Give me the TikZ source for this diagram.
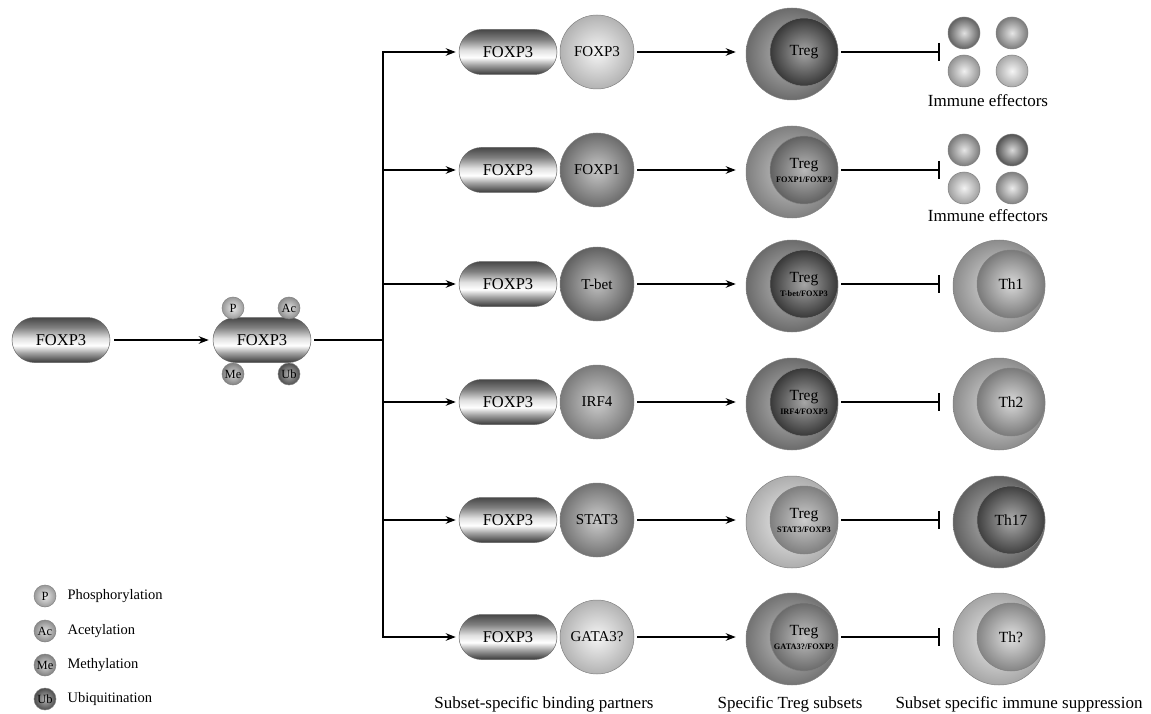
\documentclass[tikz,border=0pt]{standalone}
\usepackage{fontspec}
\setmainfont{Liberation Serif}
\usetikzlibrary{shapes.misc,arrows.meta}
\pgfdeclareverticalshading{pillshade}{100bp}{color(0bp)=(black!78); color(25bp)=(black!78); color(36bp)=(black!35); color(44bp)=(white); color(52bp)=(black!12); color(64bp)=(black!50); color(75bp)=(black!72); color(100bp)=(black!72)}
\begin{document}
\begin{tikzpicture}[x=1pt,y=-1pt,
 pill/.style={rounded rectangle, minimum width=98pt, minimum height=45pt, inner sep=0pt, shading=pillshade, draw=black!60, line width=0.5pt, font=\fontsize{16.5}{18}\selectfont},
 sph/.style n args={2}{circle, inner sep=0pt, draw=black!50, line width=0.5pt, shading=radial, inner color=black!#1, outer color=black!#2},
 partner/.style={minimum size=74pt, font=\fontsize{15}{16}\selectfont},
 cellout/.style={minimum size=92pt},
 cellin/.style={minimum size=68pt, align=center, font=\fontsize{15.5}{16}\selectfont},
 mod/.style={minimum size=22pt, font=\fontsize{12.5}{12.5}\selectfont},
 eff/.style={minimum size=32pt},
 arr/.style={line width=1.6pt, -{Stealth[length=10pt,width=7.5pt]}},
 inh/.style={line width=1.6pt, -{Bar[width=18pt,line width=2pt]}},
 lab/.style={font=\fontsize{17}{19}\selectfont},
 leg/.style={anchor=west, font=\fontsize{14.5}{16}\selectfont},
 ]
\newcommand{\subl}[1]{{\fontsize{8.3}{9}\selectfont\bfseries #1}}
\useasboundingbox (0,0) rectangle (1151,714);
% left part
\node[pill] (f0) at (61,340) {FOXP3};
\node[pill] (m) at (262,340) {FOXP3};
\node[sph={8}{40},mod] (mp) at (233,308) {P};
\node[sph={12}{45},mod] (ma) at (289,308) {Ac};
\node[sph={15}{50},mod] (mm) at (233,374) {Me};
\node[sph={30}{70},mod] (mu) at (289,374) {Ub};
\draw[arr,shorten >=4pt,shorten <=4pt] (f0.east) -- (m.west);
\coordinate (j) at (383,340);
\draw[line width=1.6pt] ([xshift=3pt]m.east) -- (j);
\foreach \i/\y in {1/52,2/170,3/284,4/402,5/520,6/637}{
  \node[pill] (fp\i) at (508,\y) {FOXP3};
  \draw[arr] (j) |- ([xshift=-3pt]fp\i.west);
}
% partners
\node[sph={4}{30},partner] (p1) at (597,52) {FOXP3};
\node[sph={22}{58},partner] (p2) at (597,170) {FOXP1};
\node[sph={25}{62},partner] (p3) at (597,284) {T-bet};
\node[sph={20}{52},partner] (p4) at (597,402) {IRF4};
\node[sph={20}{55},partner] (p5) at (597,520) {STAT3};
\node[sph={4}{30},partner] (p6) at (597,637) {GATA3?};
% Treg cells
\node[sph={25}{58},cellout] (t1) at (792,54) {};
\node[sph={35}{78},cellin] (ti1) at (804,52) {Treg};
\node[sph={20}{50},cellout] (t2) at (792,172) {};
\node[sph={28}{62},cellin] (ti2) at (804,170) {Treg\\[-2pt]\subl{FOXP1/FOXP3}};
\node[sph={25}{58},cellout] (t3) at (792,286) {};
\node[sph={35}{78},cellin] (ti3) at (804,284) {Treg\\[-2pt]\subl{T-bet/FOXP3}};
\node[sph={25}{58},cellout] (t4) at (792,404) {};
\node[sph={35}{78},cellin] (ti4) at (804,402) {Treg\\[-2pt]\subl{IRF4/FOXP3}};
\node[sph={6}{32},cellout] (t5) at (792,522) {};
\node[sph={20}{50},cellin] (ti5) at (804,520) {Treg\\[-2pt]\subl{STAT3/FOXP3}};
\node[sph={22}{55},cellout] (t6) at (792,639) {};
\node[sph={25}{58},cellin] (ti6) at (804,637) {Treg\\[-2pt]\subl{GATA3?/FOXP3}};
\foreach \i in {1,...,6}{
  \draw[arr,shorten <=3pt,shorten >=10pt] (p\i.east) -- (t\i.west |- p\i.east);
}
% effectors
\node[sph={12}{62},eff] (a1) at (964,33) {};
\node[sph={10}{52},eff] (a2) at (1012,33) {};
\node[sph={6}{42},eff] (a3) at (964,71) {};
\node[sph={4}{34},eff] (a4) at (1012,71) {};
\node[lab] (el1) at (988,101) {Immune effectors};
\node[sph={10}{52},eff] (b1) at (964,150) {};
\node[sph={15}{68},eff] (b2) at (1012,150) {};
\node[sph={5}{38},eff] (b3) at (964,188) {};
\node[sph={8}{50},eff] (b4) at (1012,188) {};
\node[lab] (el2) at (988,216) {Immune effectors};
\coordinate (e1) at (940,52);
\coordinate (e2) at (940,170);
\draw[inh,shorten <=3pt] (t1.east |- e1) -- (e1);
\draw[inh,shorten <=3pt] (t2.east |- e2) -- (e2);
% Th cells
\node[sph={12}{45},cellout] (h3) at (999,286) {};
\node[sph={15}{52},cellin] (hi3) at (1011,284) {Th1};
\node[sph={12}{45},cellout] (h4) at (999,404) {};
\node[sph={15}{52},cellin] (hi4) at (1011,402) {Th2};
\node[sph={25}{62},cellout] (h5) at (999,522) {};
\node[sph={32}{75},cellin] (hi5) at (1011,520) {Th17};
\node[sph={6}{35},cellout] (h6) at (999,639) {};
\node[sph={12}{48},cellin] (hi6) at (1011,637) {Th?};
\foreach \i in {3,...,6}{
  \draw[inh,shorten <=3pt,shorten >=13pt] (t\i.east |- p\i.east) -- (h\i.west |- p\i.east);
}
% bottom labels
\node[lab] (l1) at (544,704) {Subset-specific binding partners};
\node[lab] (l2) at (790,704) {Specific Treg subsets};
\node[lab] (l3) at (1019,704) {Subset specific immune suppression};
% legend
\node[sph={8}{40},mod] (lp) at (45,596) {P};
\node[sph={12}{45},mod] (la) at (45,631) {Ac};
\node[sph={15}{50},mod] (lm) at (45,665) {Me};
\node[sph={30}{70},mod] (lu) at (45,699) {Ub};
\node[leg] (tp) at (64,596) {Phosphorylation};
\node[leg] (ta) at (64,631) {Acetylation};
\node[leg] (tm) at (64,665) {Methylation};
\node[leg] (tu) at (64,699) {Ubiquitination};
\end{tikzpicture}
\end{document}
